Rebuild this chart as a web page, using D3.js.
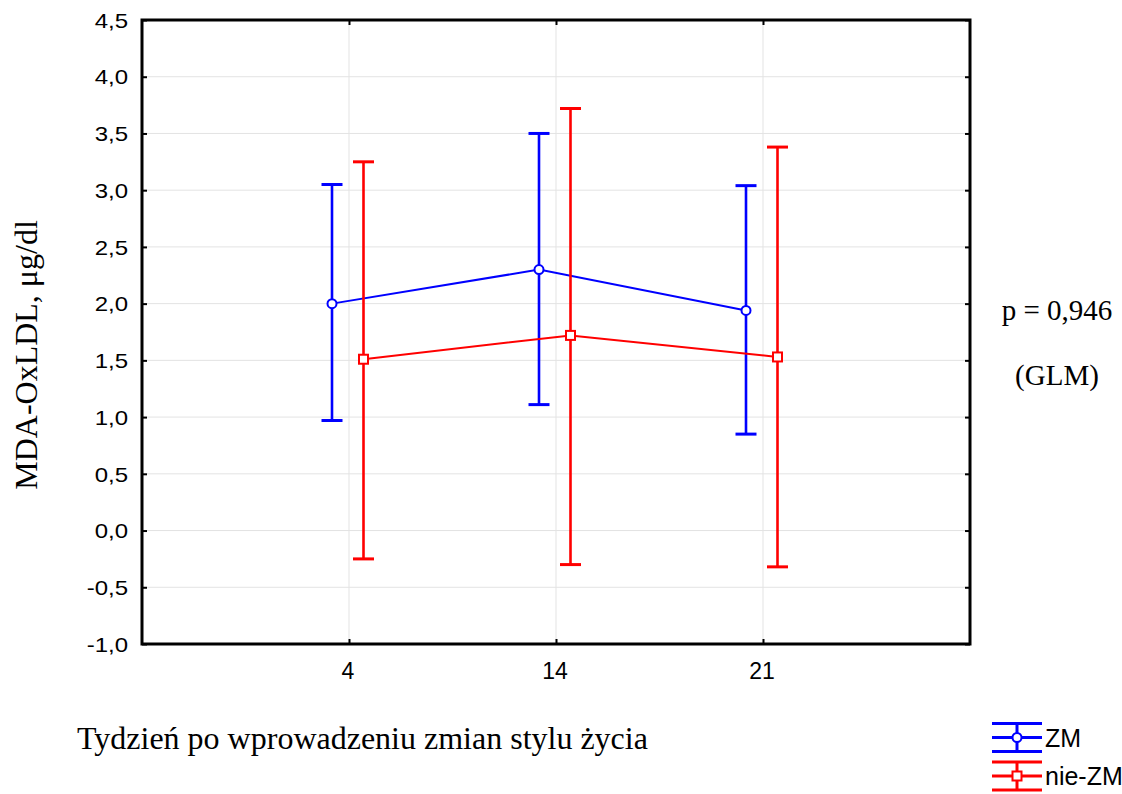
<!DOCTYPE html>
<html>
<head>
<meta charset="utf-8">
<script src="https://cdn.jsdelivr.net/npm/d3@7"></script>
<style>
  html, body { margin: 0; padding: 0; background: #fff; }
  svg { display: block; }
</style>
</head>
<body>
<svg id="chart" width="1122" height="794"></svg>
<script>
// Weeks after introducing lifestyle changes
const weeks = ["4", "14", "21"];
const seriesNames = ["ZM", "nie-ZM"];
const seriesColors = ["#0000ff", "#ff0000"];

// Means with lower / upper interval bounds (MDA-OxLDL, µg/dl)
const zmMean  = [2.00, 2.30, 1.94];
const zmLow   = [0.97, 1.11, 0.85];
const zmHigh  = [3.05, 3.50, 3.04];
const nzmMean = [1.51, 1.72, 1.53];
const nzmLow  = [-0.25, -0.30, -0.32];
const nzmHigh = [3.25, 3.72, 3.38];

const yTicks = [-1.0, -0.5, 0.0, 0.5, 1.0, 1.5, 2.0, 2.5, 3.0, 3.5, 4.0, 4.5];

const series = [
  { name: seriesNames[0], color: seriesColors[0], mean: zmMean,  low: zmLow,  high: zmHigh,  marker: "circle", shift: -17 },
  { name: seriesNames[1], color: seriesColors[1], mean: nzmMean, low: nzmLow, high: nzmHigh, marker: "square", shift: 14.5 }
];

const SANS = "'Liberation Sans', Arial, sans-serif";
const SERIF = "'Liberation Serif', 'Times New Roman', serif";

const svg = d3.select("#chart");
const L = 142, R = 970, T = 20, B = 644;

const x = d3.scaleLinear().domain([0, weeks.length + 1]).range([L, R]);
const y = d3.scaleLinear().domain([-1.0, 4.5]).range([B, T]);
const fmt = v => d3.format(".1f")(v).replace(".", ",").replace("−", "-");

// grid
const grid = svg.append("g").attr("stroke", "#e3e3e3").attr("stroke-width", 1);
yTicks.forEach(t => {
  grid.append("line").attr("x1", L).attr("x2", R).attr("y1", y(t)).attr("y2", y(t));
});
weeks.forEach((w, i) => {
  grid.append("line").attr("x1", x(i + 1)).attr("x2", x(i + 1)).attr("y1", T).attr("y2", B);
});

// left axis (ticks pointing inward), labels drawn slightly widened
const yAxis = svg.append("g").attr("transform", `translate(${L},0)`)
  .call(d3.axisLeft(y).tickValues(yTicks).tickSize(-5).tickFormat(fmt));
yAxis.select(".domain").remove();
yAxis.selectAll(".tick line").attr("stroke", "#000").attr("stroke-width", 2);
yAxis.selectAll(".tick text")
  .attr("x", null).attr("dy", null).attr("y", 7.2)
  .attr("transform", "translate(-14,0) scale(1.2,1)")
  .attr("font-family", SANS).attr("font-size", 20).attr("fill", "#000");

// right axis ticks
const yAxisR = svg.append("g").attr("transform", `translate(${R},0)`)
  .call(d3.axisRight(y).tickValues(yTicks).tickSize(-5).tickFormat(""));
yAxisR.select(".domain").remove();
yAxisR.selectAll(".tick line").attr("stroke", "#000").attr("stroke-width", 2);

// bottom axis
const xAxis = svg.append("g").attr("transform", `translate(0,${B})`)
  .call(d3.axisBottom(x).tickValues(weeks.map((w, i) => i + 1)).tickSize(-5)
    .tickFormat((d) => weeks[d - 1]));
xAxis.select(".domain").remove();
xAxis.selectAll(".tick line").attr("stroke", "#000").attr("stroke-width", 2);
xAxis.selectAll(".tick text")
  .attr("dy", null).attr("y", 34.5).attr("x", -1.5)
  .attr("font-family", SANS).attr("font-size", 23).attr("fill", "#000");

// top axis ticks
const xAxisT = svg.append("g").attr("transform", `translate(0,${T})`)
  .call(d3.axisTop(x).tickValues(weeks.map((w, i) => i + 1)).tickSize(-5).tickFormat(""));
xAxisT.select(".domain").remove();
xAxisT.selectAll(".tick line").attr("stroke", "#000").attr("stroke-width", 2);

// frame
svg.append("rect").attr("x", L).attr("y", T).attr("width", R - L).attr("height", B - T)
  .attr("fill", "none").attr("stroke", "#000").attr("stroke-width", 3);

// series: error bars, connecting lines, markers
const capHalf = 10.5;
series.forEach(s => {
  const g = svg.append("g");
  const px = i => x(i + 1) + s.shift;
  weeks.forEach((w, i) => {
    g.append("line").attr("x1", px(i)).attr("x2", px(i)).attr("y1", y(s.high[i])).attr("y2", y(s.low[i]))
      .attr("stroke", s.color).attr("stroke-width", 2.6);
    [s.high[i], s.low[i]].forEach(v => {
      g.append("line").attr("x1", px(i) - capHalf).attr("x2", px(i) + capHalf).attr("y1", y(v)).attr("y2", y(v))
        .attr("stroke", s.color).attr("stroke-width", 3);
    });
  });
  const line = d3.line().x((d, i) => px(i)).y(d => y(d));
  g.append("path").datum(s.mean).attr("d", line).attr("fill", "none")
    .attr("stroke", s.color).attr("stroke-width", 2);
  s.mean.forEach((m, i) => {
    if (s.marker === "circle") {
      g.append("circle").attr("cx", px(i)).attr("cy", y(m)).attr("r", 4.5)
        .attr("fill", "#fff").attr("stroke", s.color).attr("stroke-width", 2);
    } else {
      g.append("rect").attr("x", px(i) - 4.5).attr("y", y(m) - 4.5).attr("width", 9).attr("height", 9)
        .attr("fill", "#fff").attr("stroke", s.color).attr("stroke-width", 2);
    }
  });
});

// axis titles
svg.append("text").attr("transform", "translate(37,355) rotate(-90)")
  .attr("text-anchor", "middle").attr("font-family", SERIF)
  .attr("font-size", 32).attr("fill", "#000").text("MDA-OxLDL, μg/dl");

svg.append("text").attr("x", 77).attr("y", 749)
  .attr("font-family", SERIF)
  .attr("font-size", 32).attr("fill", "#000").text("Tydzień po wprowadzeniu zmian stylu życia");

// annotation
svg.append("text").attr("x", 1057).attr("y", 320).attr("text-anchor", "middle")
  .attr("font-family", SERIF)
  .attr("font-size", 29).attr("fill", "#000").text("p = 0,946");
svg.append("text").attr("x", 1057).attr("y", 385).attr("text-anchor", "middle")
  .attr("font-family", SERIF)
  .attr("font-size", 29).attr("fill", "#000").text("(GLM)");

// legend
const leg = svg.append("g");
series.forEach((s, k) => {
  const cy = 737.5 + k * 38.5;
  const x0 = 992, x1 = 1042, xm = 1017;
  [-14, 0, 14].forEach(dy => {
    leg.append("line").attr("x1", x0).attr("x2", x1).attr("y1", cy + dy).attr("y2", cy + dy)
      .attr("stroke", s.color).attr("stroke-width", 3);
  });
  leg.append("line").attr("x1", xm).attr("x2", xm).attr("y1", cy - 14).attr("y2", cy + 14)
    .attr("stroke", s.color).attr("stroke-width", 3);
  if (s.marker === "circle") {
    leg.append("circle").attr("cx", xm).attr("cy", cy).attr("r", 4.5)
      .attr("fill", "#fff").attr("stroke", s.color).attr("stroke-width", 2);
  } else {
    leg.append("rect").attr("x", xm - 4.5).attr("y", cy - 4.5).attr("width", 9).attr("height", 9)
      .attr("fill", "#fff").attr("stroke", s.color).attr("stroke-width", 2);
  }
  leg.append("text").attr("x", 1045).attr("y", cy + 9)
    .attr("font-family", SANS)
    .attr("font-size", 25).attr("fill", "#000").text(s.name);
});
</script>
</body>
</html>
